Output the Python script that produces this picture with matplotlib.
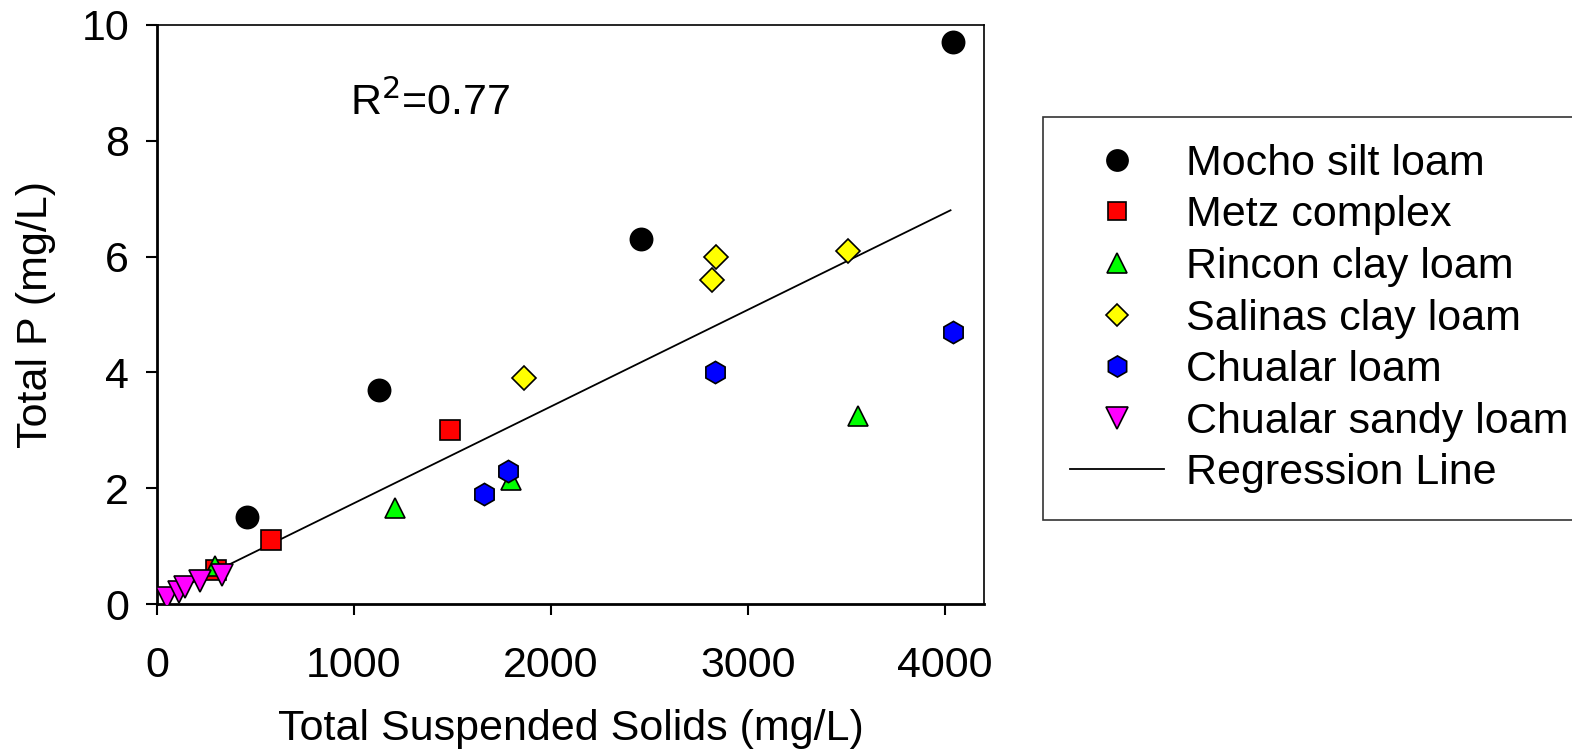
import numpy as np
import matplotlib.pyplot as plt
from matplotlib.lines import Line2D

plt.rcParams['font.family'] = ['Liberation Sans', 'DejaVu Sans']

mocho_x = [457, 1127, 2460, 4041]
mocho_y = [1.5, 3.7, 6.3, 9.7]
metz_x = [300, 579, 1487]
metz_y = [0.58, 1.1, 3.0]
rincon_x = [294, 1208, 1797, 3558]
rincon_y = [0.65, 1.65, 2.15, 3.25]
salinas_x = [1863, 2817, 2838, 3508]
salinas_y = [3.9, 5.6, 6.0, 6.1]
chualar_x = [1660, 1782, 2832, 4041]
chualar_y = [1.9, 2.3, 4.0, 4.7]
sandy_x = [50, 110, 140, 220, 330]
sandy_y = [0.1, 0.2, 0.3, 0.4, 0.5]

reg_slope = 0.00167
reg_icept = 0.07
reg_range = [100, 4030]

series = [
    ("Mocho silt loam", mocho_x, mocho_y, 'o', 'black', 16),
    ("Metz complex", metz_x, metz_y, 's', 'red', 14),
    ("Rincon clay loam", rincon_x, rincon_y, '^', '#00ff00', 15),
    ("Salinas clay loam", salinas_x, salinas_y, 'D', 'yellow', 12),
    ("Chualar loam", chualar_x, chualar_y, 'h', 'blue', 16),
    ("Chualar sandy loam", sandy_x, sandy_y, 'v', 'magenta', 16),
]

fig = plt.figure(figsize=(15.72, 7.52), dpi=100)
ax = fig.add_axes([157 / 1572, 1 - 604 / 752, (984 - 157) / 1572, (604 - 25) / 752])

handles = []
for name, xs, ys, mk, col, ms in series:
    ax.plot(xs, ys, linestyle='none', marker=mk, markersize=ms,
            markerfacecolor=col, markeredgecolor='black', markeredgewidth=1.2,
            zorder=3)
    handles.append(Line2D([], [], linestyle='none', marker=mk, markersize=ms * 0.95,
                          markerfacecolor=col, markeredgecolor='black',
                          markeredgewidth=1.2, label=name))

xr = np.array(reg_range)
ax.plot(xr, reg_slope * xr + reg_icept, color='black', linewidth=1.3, zorder=2)
handles.append(Line2D([], [], color='black', linewidth=1.3, label="Regression Line"))

ax.set_xlim(0, 4200)
ax.set_ylim(0, 10)
ax.set_xticks([0, 1000, 2000, 3000, 4000])
ax.set_yticks([0, 2, 4, 6, 8, 10])
ax.tick_params(axis='both', direction='out', length=8, width=1.5, labelsize=31)
ax.tick_params(axis='x', pad=22)
ax.tick_params(axis='y', pad=12)
ax.spines['left'].set_linewidth(2)
ax.spines['bottom'].set_linewidth(2)
ax.spines['top'].set_linewidth(1.2)
ax.spines['right'].set_linewidth(1.2)

ax.set_xlabel("Total Suspended Solids (mg/L)", fontsize=31, labelpad=17)
ax.set_ylabel("Total P (mg/L)", fontsize=31, labelpad=18)
ax.text(0.233, 0.865, r"R$^2$=0.77", transform=ax.transAxes, fontsize=31,
        ha='left', va='center')

leg = fig.legend(handles=handles, loc='upper left',
                 bbox_to_anchor=(1043 / 1572, 1 - 117 / 752),
                 fontsize=31, frameon=True, fancybox=False, edgecolor='black',
                 handlelength=2.2, handletextpad=0.5, labelspacing=0.27,
                 borderpad=0.62, borderaxespad=0)
leg.get_frame().set_linewidth(1.2)

fig.savefig('out.png', dpi=100)
